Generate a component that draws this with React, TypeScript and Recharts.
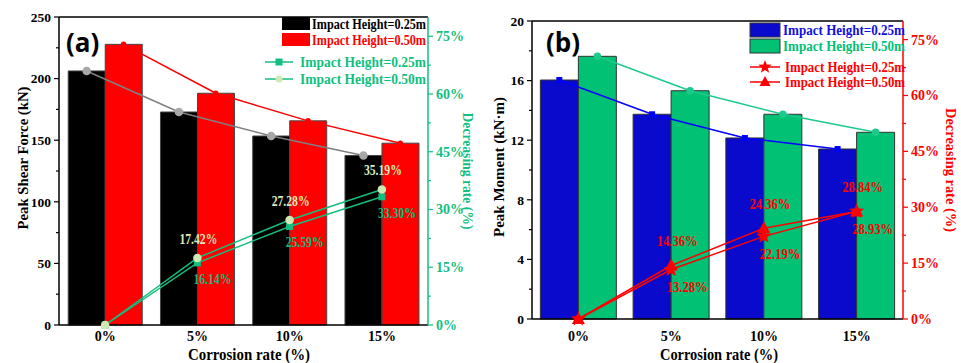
import { ComposedChart, Bar, Line, XAxis, YAxis, ReferenceLine, LabelList } from 'recharts'

// categories + values
const categories = ['0%', '5%', '10%', '15%']

const shearLow = [206.2, 172.9, 153.4, 137.6]
const shearHigh = [227.8, 188.1, 165.7, 147.6]
const shearRateLow = [0, 16.14, 25.59, 33.3]
const shearRateHigh = [0, 17.42, 27.28, 35.19]

const momentLow = [16.04, 13.74, 12.15, 11.41]
const momentHigh = [17.63, 15.32, 13.74, 12.53]
const momentRateLow = [0, 13.28, 22.19, 28.93]
const momentRateHigh = [0, 14.36, 24.36, 28.84]

const shearTicks = [0, 25, 50, 75, 100, 125, 150, 175, 200, 225, 250]
const momentTicks = [0, 2, 4, 6, 8, 10, 12, 14, 16, 18, 20]
const rateTicks = [0, 7.5, 15, 22.5, 30, 37.5, 45, 52.5, 60, 67.5, 75]

const SERIF = "'Liberation Serif', 'Times New Roman', serif"
const GREEN_A = '#12BF7E'
const LIGHT_A = '#CFE8B4'
const RED = '#FF0000'

const shearData = categories.map((c, i) => ({
  cat: c,
  xl: i + 0.3,
  xr: i + 0.7,
  low: shearLow[i],
  high: shearHigh[i],
  rateLow: shearRateLow[i],
  rateHigh: shearRateHigh[i],
}))

const momentData = categories.map((c, i) => ({
  cat: c,
  xl: i + 0.295,
  xr: i + 0.705,
  low: momentLow[i],
  high: momentHigh[i],
  rateLow: momentRateLow[i],
  rateHigh: momentRateHigh[i],
}))

// tick with minor marks; only major ones get a label
const makeTick =
  (side: 'left' | 'right', color: string, step: number, fmt: (v: number) => string) =>
  (props: any) => {
    const { x, y, payload } = props
    const v = payload.value
    const major = Math.abs(v / step - Math.round(v / step)) < 1e-6
    const dir = side === 'left' ? -1 : 1
    const len = major ? 5 : 3
    return (
      <g>
        <line x1={x} y1={y} x2={x + dir * len} y2={y} stroke={color} strokeWidth={1.2} />
        {major && (
          <text
            x={x + dir * (len + 3)}
            y={y}
            dy="0.35em"
            textAnchor={side === 'left' ? 'end' : 'start'}
            fill={color}
            fontSize={side === 'left' ? 13.5 : 14}
            fontWeight="bold"
            fontFamily={SERIF}
          >
            {fmt(v)}
          </text>
        )}
      </g>
    )
  }

const starPath = (cx: number, cy: number, r: number) => {
  let d = ''
  for (let k = 0; k < 10; k++) {
    const rr = k % 2 === 0 ? r : r * 0.42
    const a = -Math.PI / 2 + (k * Math.PI) / 5
    d += (k === 0 ? 'M' : 'L') + (cx + rr * Math.cos(a)).toFixed(2) + ',' + (cy + rr * Math.sin(a)).toFixed(2)
  }
  return d + 'Z'
}

const pctLabel = (color: string, dx: number, dy: number, w: number) => (props: any) => {
  const { x, y, value, index } = props
  if (index === 0) return null
  return (
    <text
      x={x + dx - w / 2}
      y={y + dy}
      dy="0.35em"
      textLength={w}
      lengthAdjust="spacingAndGlyphs"
      fill={color}
      fontSize={14}
      fontWeight="bold"
      fontFamily={SERIF}
    >
      {Number(value).toFixed(2)}%
    </text>
  )
}

const xTick = { fill: '#000', fontSize: 14, fontWeight: 'bold', fontFamily: SERIF }

function ShearChart() {
  return (
    <ComposedChart
      width={480}
      height={363}
      data={shearData}
      margin={{ top: 17, right: 0, bottom: 0, left: 0 }}
      barCategoryGap="10%"
      barGap={0}
    >
      <XAxis dataKey="cat" height={38} tickLine={false} tickSize={0} tickMargin={6} tick={xTick} stroke="#000" strokeWidth={1.5} />
      <XAxis xAxisId="l" dataKey="xl" type="number" domain={[0, 4]} hide />
      <XAxis xAxisId="r" dataKey="xr" type="number" domain={[0, 4]} hide />
      <YAxis
        yAxisId="left"
        width={59}
        domain={[0, 250]}
        ticks={shearTicks}
        interval={0}
        tickLine={false}
        tickSize={0}
        tickMargin={0}
        stroke="#000"
        strokeWidth={1.5}
        tick={makeTick('left', '#000', 50, (v) => String(v))}
      />
      <YAxis
        yAxisId="rate"
        orientation="right"
        width={52}
        domain={[0, 80]}
        ticks={rateTicks}
        interval={0}
        tickLine={false}
        tickSize={0}
        tickMargin={0}
        stroke={GREEN_A}
        strokeWidth={1.5}
        tick={makeTick('right', GREEN_A, 15, (v) => v + '%')}
      />
      <ReferenceLine yAxisId="left" y={250} stroke="#000" strokeWidth={1.5} />
      <Bar yAxisId="left" dataKey="low" fill="#000" stroke="#444" strokeWidth={1} isAnimationActive={false} />
      <Bar yAxisId="left" dataKey="high" fill={RED} stroke="#444" strokeWidth={1} isAnimationActive={false} />
      <Line
        yAxisId="left"
        xAxisId="l"
        dataKey="low"
        stroke="#808080"
        strokeWidth={1.5}
        dot={{ r: 3.5, fill: '#A8A8A8', stroke: '#A8A8A8' }}
        isAnimationActive={false}
      />
      <Line
        yAxisId="left"
        xAxisId="r"
        dataKey="high"
        stroke={RED}
        strokeWidth={1.5}
        dot={{ r: 2, fill: RED, stroke: RED }}
        isAnimationActive={false}
      />
      <Line
        yAxisId="rate"
        dataKey="rateLow"
        stroke={GREEN_A}
        strokeWidth={1.5}
        dot={(p: any) => (
          <rect key={'sq' + p.index} x={p.cx - 3.5} y={p.cy - 3.5} width={7} height={7} fill={GREEN_A} />
        )}
        isAnimationActive={false}
      >
        <LabelList dataKey="rateLow" content={pctLabel('#14B97A', 15, 16, 38)} />
      </Line>
      <Line
        yAxisId="rate"
        dataKey="rateHigh"
        stroke={GREEN_A}
        strokeWidth={1.5}
        dot={{ r: 3.5, fill: LIGHT_A, stroke: LIGHT_A }}
        isAnimationActive={false}
      >
        <LabelList dataKey="rateHigh" content={pctLabel('#DCEBBE', 1, -19, 38)} />
      </Line>
    </ComposedChart>
  )
}

function MomentChart() {
  return (
    <ComposedChart
      width={481}
      height={363}
      data={momentData}
      margin={{ top: 21, right: 0, bottom: 0, left: 0 }}
      barCategoryGap="9%"
      barGap={0}
    >
      <XAxis dataKey="cat" height={44} tickLine={false} tickSize={0} tickMargin={12} tick={xTick} stroke="#000" strokeWidth={1.5} />
      <XAxis xAxisId="l" dataKey="xl" type="number" domain={[0, 4]} hide />
      <XAxis xAxisId="r" dataKey="xr" type="number" domain={[0, 4]} hide />
      <YAxis
        yAxisId="left"
        width={52}
        domain={[0, 20]}
        ticks={momentTicks}
        interval={0}
        tickLine={false}
        tickSize={0}
        tickMargin={0}
        stroke="#000"
        strokeWidth={1.5}
        tick={makeTick('left', '#000', 4, (v) => String(v))}
      />
      <YAxis
        yAxisId="rate"
        orientation="right"
        width={58}
        domain={[0, 80]}
        ticks={rateTicks}
        interval={0}
        tickLine={false}
        tickSize={0}
        tickMargin={0}
        stroke={RED}
        strokeWidth={1.5}
        tick={makeTick('right', RED, 15, (v) => v + '%')}
      />
      <ReferenceLine yAxisId="left" y={20} stroke="#000" strokeWidth={1.5} />
      <Bar yAxisId="left" dataKey="low" fill="#0A0ACC" stroke="#333" strokeWidth={1} isAnimationActive={false} />
      <Bar yAxisId="left" dataKey="high" fill="#00C174" stroke="#333" strokeWidth={1} isAnimationActive={false} />
      <Line
        yAxisId="left"
        xAxisId="l"
        dataKey="low"
        stroke="#0000FF"
        strokeWidth={1.5}
        dot={(p: any) => (
          <rect key={'bs' + p.index} x={p.cx - 3} y={p.cy - 3} width={6} height={6} fill="#0000FF" />
        )}
        isAnimationActive={false}
      />
      <Line
        yAxisId="left"
        xAxisId="r"
        dataKey="high"
        stroke="#1BCB8A"
        strokeWidth={1.5}
        dot={{ r: 3, fill: '#1BCB8A', stroke: '#1BCB8A' }}
        isAnimationActive={false}
      />
      <Line
        yAxisId="rate"
        dataKey="rateLow"
        stroke={RED}
        strokeWidth={1.5}
        dot={(p: any) => <path key={'st' + p.index} d={starPath(p.cx, p.cy, 8)} fill={RED} />}
        isAnimationActive={false}
      >
        <LabelList dataKey="rateLow" content={pctLabel(RED, 16, 18, 41)} />
      </Line>
      <Line
        yAxisId="rate"
        dataKey="rateHigh"
        stroke={RED}
        strokeWidth={1.5}
        dot={(p: any) => (
          <path
            key={'tr' + p.index}
            d={`M${p.cx},${p.cy - 7}L${p.cx + 6.5},${p.cy + 5}L${p.cx - 6.5},${p.cy + 5}Z`}
            fill={RED}
          />
        )}
        isAnimationActive={false}
      >
        <LabelList dataKey="rateHigh" content={pctLabel(RED, 6, -24, 41)} />
      </Line>
    </ComposedChart>
  )
}

const bold = { fontFamily: SERIF, fontWeight: 'bold', lengthAdjust: 'spacingAndGlyphs' } as const

export default function App() {
  return (
    <div style={{ position: 'absolute', left: 0, top: 0, width: 961, height: 363, background: '#fff' }}>
      <div style={{ position: 'absolute', left: 0, top: 0 }}>
        <ShearChart />
      </div>
      <div style={{ position: 'absolute', left: 480, top: 0 }}>
        <MomentChart />
      </div>
      <svg width={961} height={363} style={{ position: 'absolute', left: 0, top: 0, pointerEvents: 'none' }}>
        {/* panel (a) */}
        <text x={66} y={52} fontFamily="'Open Sans', sans-serif" fontWeight="bold" fontSize={26}>(a)</text>
        <text transform="translate(23,158) rotate(-90)" x={-71.5} textLength={143} dy="0.35em" fontSize={15} {...bold}>
          Peak Shear Force (kN)
        </text>
        <text transform="translate(468,171) rotate(90)" x={-58.5} textLength={117} dy="0.35em" fontSize={15} fill={GREEN_A} {...bold}>
          Decreasing rate (%)
        </text>
        <text x={188} y={354} textLength={122} dy="0.35em" fontSize={16} {...bold}>Corrosion rate (%)</text>
        <rect x={282} y={17} width={28} height={13} fill="#000" />
        <text x={312} y={24} dy="0.35em" fontSize={14} textLength={114} fill="#000" {...bold}>Impact Height=0.25m</text>
        <rect x={282} y={33} width={28} height={13} fill={RED} />
        <text x={312} y={40} dy="0.35em" fontSize={14} textLength={114} fill={RED} {...bold}>Impact Height=0.50m</text>
        <line x1={265} y1={62} x2={293} y2={62} stroke={GREEN_A} strokeWidth={1.5} />
        <rect x={275.5} y={58.5} width={7} height={7} fill={GREEN_A} />
        <text x={300} y={62} dy="0.35em" fontSize={15.5} textLength={126} fill={GREEN_A} {...bold}>Impact Height=0.25m</text>
        <line x1={265} y1={79} x2={293} y2={79} stroke={GREEN_A} strokeWidth={1.5} />
        <circle cx={279} cy={79} r={3.5} fill={LIGHT_A} />
        <text x={300} y={79} dy="0.35em" fontSize={15.5} textLength={126} fill={GREEN_A} {...bold}>Impact Height=0.50m</text>

        {/* panel (b) */}
        <text x={546} y={52} fontFamily="'Open Sans', sans-serif" fontWeight="bold" fontSize={26}>(b)</text>
        <text transform="translate(499,167) rotate(-90)" x={-70} textLength={140} dy="0.35em" fontSize={15} {...bold}>
          Peak Moment (kN·m)
        </text>
        <text transform="translate(951,170) rotate(90)" x={-62} textLength={124} dy="0.35em" fontSize={15} fill={RED} {...bold}>
          Decreasing rate (%)
        </text>
        <text x={660} y={354} textLength={118} dy="0.35em" fontSize={16} {...bold}>Corrosion rate (%)</text>
        <rect x={750} y={23} width={30} height={14} fill="#0A0ACC" stroke="#333" />
        <text x={783} y={30} dy="0.35em" fontSize={14.5} textLength={122} fill="#1010E0" {...bold}>Impact Height=0.25m</text>
        <rect x={750} y={39} width={30} height={14} fill="#00C174" stroke="#333" />
        <text x={783} y={46} dy="0.35em" fontSize={14.5} textLength={122} fill="#00C174" {...bold}>Impact Height=0.50m</text>
        <line x1={750} y1={67} x2={780} y2={67} stroke={RED} strokeWidth={1.5} />
        <path d={starPath(765, 67, 7)} fill={RED} />
        <text x={785} y={67} dy="0.35em" fontSize={14.5} textLength={120} fill={RED} {...bold}>Impact Height=0.25m</text>
        <line x1={750} y1={82} x2={780} y2={82} stroke={RED} strokeWidth={1.5} />
        <path d="M765,76L770.5,86L759.5,86Z" fill={RED} />
        <text x={785} y={82} dy="0.35em" fontSize={14.5} textLength={120} fill={RED} {...bold}>Impact Height=0.50m</text>
      </svg>
    </div>
  )
}
